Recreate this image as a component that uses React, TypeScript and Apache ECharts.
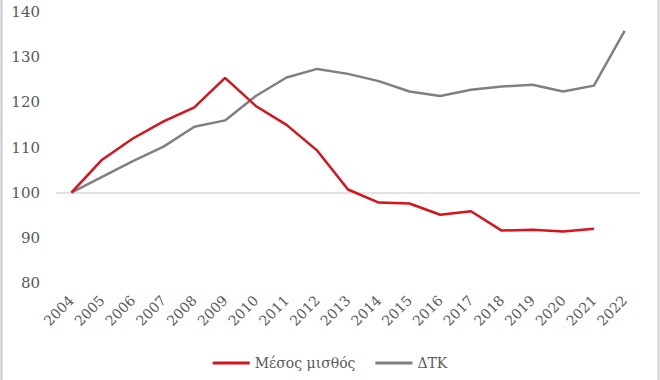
import React, { useEffect, useRef } from "react";
import * as echarts from "echarts";

const years = ["2004","2005","2006","2007","2008","2009","2010","2011","2012","2013","2014","2015","2016","2017","2018","2019","2020","2021","2022"];
const wageName = "Μέσος μισθός";
const cpiName = "ΔΤΚ";
const wage = [100, 107.3, 112, 115.8, 118.9, 125.4, 119.2, 115, 109.3, 100.7, 97.8, 97.6, 95.1, 95.9, 91.6, 91.8, 91.4, 92.0, null];
const cpi = [100, 103.5, 107, 110.2, 114.6, 116, 121.4, 125.5, 127.4, 126.3, 124.7, 122.4, 121.4, 122.8, 123.5, 123.9, 122.4, 123.7, 135.8];
const yTicks = { min: 80, max: 140, interval: 10 };

const FONT = "DejaVu Serif";
const TXT = "#595959";

export default function App() {
  const ref = useRef<HTMLDivElement>(null);
  useEffect(() => {
    const chart = echarts.init(ref.current!, null, { renderer: "svg" });
    chart.setOption({
      animation: false,
      backgroundColor: "#ffffff",
      grid: { left: 56, right: 20, top: 12, bottom: 97, containLabel: false },
      legend: {
        bottom: 5,
        left: "center",
        itemWidth: 37,
        itemHeight: 3,
        itemGap: 20,
        icon: "rect",
        textStyle: { fontFamily: FONT, fontSize: 14, color: TXT },
        data: [wageName, cpiName],
      },
      xAxis: {
        type: "category",
        data: years,
        boundaryGap: true,
        axisLine: { show: false },
        axisTick: { show: false },
        axisLabel: { rotate: 45, fontFamily: FONT, fontSize: 14, color: TXT, margin: 15 },
      },
      yAxis: {
        type: "value",
        min: yTicks.min,
        max: yTicks.max,
        interval: yTicks.interval,
        splitLine: { show: false },
        axisLine: { show: false },
        axisTick: { show: false },
        axisLabel: { fontFamily: FONT, fontSize: 15, color: TXT, margin: 16 },
      },
      graphic: [
        { type: "line", shape: { x1: 1.5, y1: 0, x2: 1.5, y2: 380 }, style: { stroke: "#c8c8c8", lineWidth: 2 } },
        { type: "line", shape: { x1: 658.5, y1: 0, x2: 658.5, y2: 380 }, style: { stroke: "#d0d0d0", lineWidth: 2 } },
      ],
      series: [
        {
          name: cpiName,
          type: "line",
          data: cpi,
          symbol: "none",
          lineStyle: { color: "#808080", width: 2.5 },
          itemStyle: { color: "#808080" },
          z: 2,
          markLine: {
            silent: true,
            symbol: "none",
            label: { show: false },
            lineStyle: { color: "#d9d9d9", width: 1.5, type: "solid" },
            data: [{ yAxis: 100 }],
            z: 1,
          },
        },
        {
          name: wageName,
          type: "line",
          data: wage,
          symbol: "none",
          lineStyle: { color: "#d9121b", width: 2.5 },
          itemStyle: { color: "#d9121b" },
          z: 3,
        },
      ],
    });
    return () => chart.dispose();
  }, []);
  return <div ref={ref} style={{ width: 660, height: 380, position: "absolute", left: 0, top: 0 }} />;
}
